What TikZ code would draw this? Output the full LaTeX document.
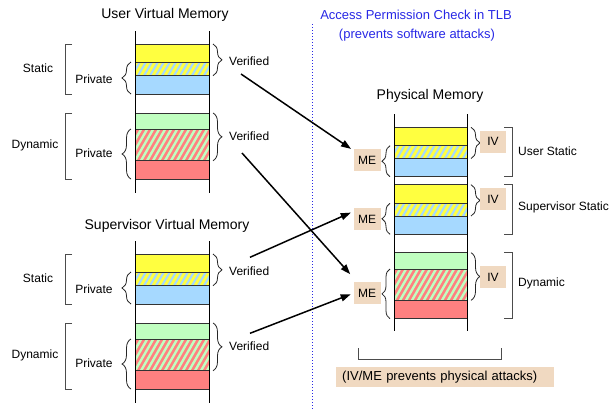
\documentclass[tikz,border=0pt]{standalone}
\usepackage{fontspec}
\setmainfont{Liberation Sans}
\usetikzlibrary{decorations.pathreplacing,arrows.meta}
\definecolor{memyel}{RGB}{255,255,64}
\definecolor{membl}{RGB}{166,217,255}
\definecolor{memgr}{RGB}{192,255,192}
\definecolor{memred}{RGB}{255,128,128}
\definecolor{tanc}{RGB}{240,217,193}
\definecolor{bluetxt}{RGB}{40,40,230}
\tikzset{
  lbl/.style={font=\fontsize{12}{14}\selectfont, inner sep=1pt},
  ttl/.style={font=\fontsize{14}{16}\selectfont, inner sep=1pt},
  btxt/.style={font=\fontsize{13}{15}\selectfont, inner sep=1pt, text=bluetxt},
  seg/.style={draw=black!80, line width=0.9pt},
  vline/.style={draw=black, line width=1pt},
  brc/.style={draw=black!85, line width=0.8pt, decorate, decoration={brace, amplitude=#1}},
  bkt/.style={draw=black!70, line width=0.9pt},
  tag/.style={fill=tanc, font=\fontsize{12}{14}\selectfont, minimum width=27pt, minimum height=21.7pt, inner sep=0pt},
  arr/.style={draw=black, line width=1.5pt, -{Triangle[length=10pt,width=7pt]}}
}
\newcommand\memstripes[7]{%
  \begin{scope}
    \clip (#1,#2) rectangle (#3,#4);
    \fill[#5] (#1,#2) rectangle (#3,#4);
    \foreach \k in {-60,-54,...,96} \draw[#6, line width=#7] (#1+\k,#4) -- ++(30,-52);
  \end{scope}
  \draw[seg] (#1,#2) rectangle (#3,#4);
}
\begin{document}
\begin{tikzpicture}[x=1pt,y=-1pt]
\useasboundingbox (0,0) rectangle (610,410);
\fill[white] (0,0) rectangle (610,410);

% titles
\node[ttl] (tuser) at (165,15) {User Virtual Memory};
\node[ttl] (tsup) at (167,226) {Supervisor Virtual Memory};
\node[ttl] (tphys) at (430,95.5) {Physical Memory};
\node[btxt] (tlb1) at (416,15) {Access Permission Check in TLB};
\node[btxt] (tlb2) at (417,35) {(prevents software attacks)};
\draw[bluetxt, line width=0.9pt, dash pattern=on 1pt off 2pt] (312.7,24) -- (312.7,410);

% left virtual memories
\foreach \o/\n in {0pt/u,210pt/s}{
\begin{scope}[yshift=-\o]
  \draw[seg, fill=memyel] (135,44) rectangle (209,62);
  \memstripes{135}{62}{209}{75.7}{membl}{memyel}{2.8pt}
  \draw[seg, fill=membl] (135,75.7) rectangle (209,94);
  \draw[seg, fill=memgr] (135,113) rectangle (209,129);
  \memstripes{135}{129}{209}{160.7}{memred}{memgr}{2.4pt}
  \draw[seg, fill=memred] (135,160.7) rectangle (209,179);
  \draw[vline] (135,31) -- (135,193);
  \draw[vline] (209,31) -- (209,193);
  % braces
  \draw[brc=9pt] (131,94) -- (131,62);
  \draw[brc=9pt] (131,179) -- (131,129);
  \draw[brc=9pt] (213,44) -- (213,75.7);
  \draw[brc=9pt] (213,113) -- (213,160.7);
  \draw[bkt] (72,44) -- (65,44) -- (65,94) -- (72,94);
  \draw[bkt] (72,113) -- (65,113) -- (65,179) -- (72,179);
  \node[lbl] (st\n) at (38,68) {Static};
  \node[lbl] (dy\n) at (35,145) {Dynamic};
  \node[lbl] (pa\n) at (94,79) {Private};
  \node[lbl] (pb\n) at (94,153) {Private};
  \node[lbl, anchor=west] (va\n) at (228,61) {Verified};
  \node[lbl, anchor=west] (vb\n) at (228,136) {Verified};
\end{scope}
}

% physical memory
\draw[seg, fill=memyel] (394,127.3) rectangle (467.3,145.7);
\memstripes{394}{145.7}{467.3}{158.5}{membl}{memyel}{2.8pt}
\draw[seg, fill=membl] (394,158.5) rectangle (467.3,176.7);
\draw[seg, fill=memyel] (394,184.7) rectangle (467.3,203.3);
\memstripes{394}{203.3}{467.3}{216}{membl}{memyel}{2.8pt}
\draw[seg, fill=membl] (394,216) rectangle (467.3,234.3);
\draw[seg, fill=memgr] (394,252.7) rectangle (467.3,269);
\memstripes{394}{269}{467.3}{300.3}{memred}{memgr}{2.4pt}
\draw[seg, fill=memred] (394,300.3) rectangle (467.3,318.7);
\draw[vline] (394,114) -- (394,331);
\draw[vline] (467.3,114) -- (467.3,331);

\draw[brc=9pt] (471,127.3) -- (471,158.5);
\draw[brc=9pt] (471,184.7) -- (471,216);
\draw[brc=9pt] (471,252.7) -- (471,300.3);
\node[tag, minimum width=26pt] (iv1) at (493,141.8) {IV};
\node[tag, minimum width=26pt] (iv2) at (493,199.3) {IV};
\node[tag, minimum width=26pt] (iv3) at (493,277) {IV};

\draw[brc=8pt] (390,176.7) -- (390,145.7);
\draw[brc=8pt] (390,234.3) -- (390,203.3);
\draw[brc=8pt] (390,318.7) -- (390,269);
\node[tag] (me1) at (367.2,159.9) {ME};
\node[tag] (me2) at (367.2,219.3) {ME};
\node[tag] (me3) at (367.2,293.2) {ME};

\draw[bkt] (504,127) -- (512,127) -- (512,176) -- (504,176);
\draw[bkt] (504,184.3) -- (512,184.3) -- (512,234) -- (504,234);
\draw[bkt] (504,252.3) -- (512,252.3) -- (512,318.3) -- (504,318.3);
\node[lbl, anchor=west] (us) at (517,151) {User Static};
\node[lbl, anchor=west] (ss) at (517,207.3) {Supervisor Static};
\node[lbl, anchor=west] (ds) at (517,283.3) {Dynamic};

\draw[bkt] (358.3,348.3) -- (358.3,359.3) -- (501,359.3) -- (501,348.3);
\node[fill=tanc, anchor=west, text width=206pt, inner xsep=6pt, inner ysep=0pt, minimum height=20pt,
      font=\fontsize{13}{15}\selectfont] (phys) at (336,377.3) {(IV/ME prevents physical attacks)};

% arrows
\coordinate (s1) at (241,74);
\coordinate (s2) at (242,153);
\coordinate (s3) at (250,257.3);
\coordinate (s4) at (250,333.3);
\draw[arr, shorten >=3pt] (s1) -- (me1);
\draw[arr, shorten >=10.7pt] (s2) -- (me3);
\draw[arr, shorten >=3pt] (s3) -- (me2.150);
\draw[arr, shorten >=3pt] (s4) -- (me3.west);
\end{tikzpicture}
\end{document}
